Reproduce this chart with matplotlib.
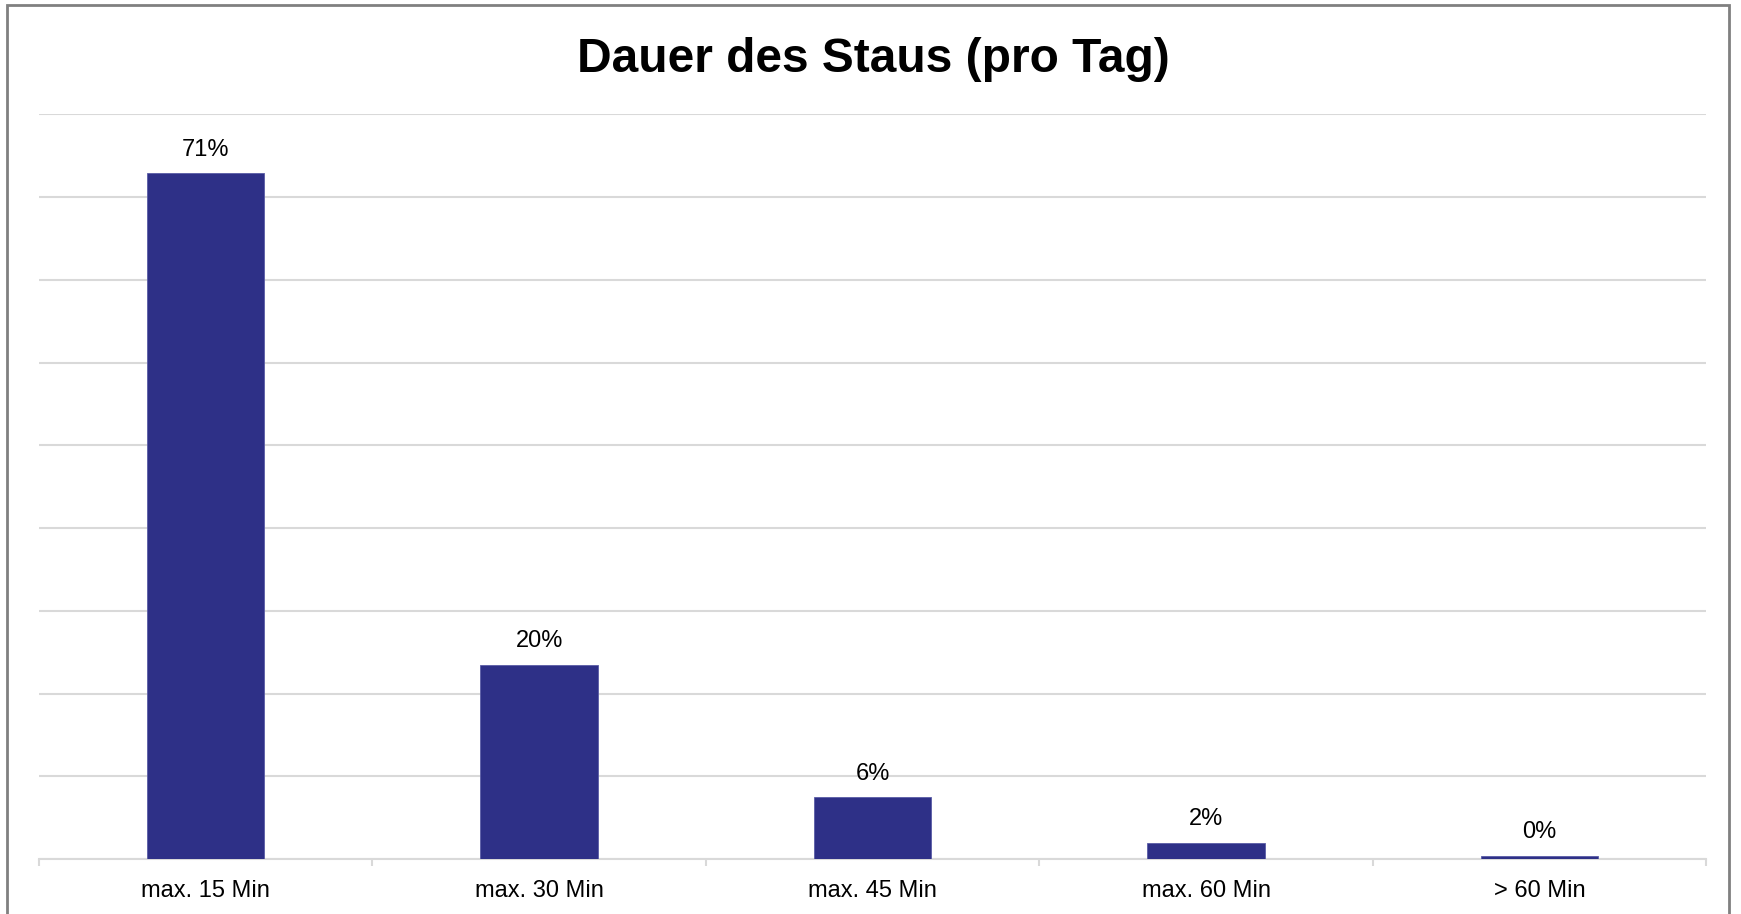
import matplotlib
matplotlib.use("Agg")
import matplotlib.pyplot as plt
from matplotlib.patches import Rectangle
import numpy as np

# data
categories = ["max. 15 Min", "max. 30 Min", "max. 45 Min", "max. 60 Min", "> 60 Min"]
shares = [71.4, 20.2, 6.4, 1.7, 0.35]
share_labels = ["71%", "20%", "6%", "2%", "0%"]
y_max = 77.5

plt.rcParams['font.family'] = ['Liberation Sans', 'DejaVu Sans']

fig = plt.figure(figsize=(17.41, 9.14), dpi=100)
ax = fig.add_axes([0.02234, 0.0602, 0.9578, 0.8146])

x = np.arange(len(categories))
ax.bar(x, shares, width=0.352, color="#2E3087", edgecolor="#5a5ca6", linewidth=0.6, zorder=3)

for xi, v, lab in zip(x, shares, share_labels):
    ax.annotate(lab, (xi, v), xytext=(0, 17.5), textcoords="offset pixels",
                ha="center", va="baseline", fontsize=17, color="#000000")

ax.set_xlim(-0.5, len(categories) - 0.5)
ax.set_ylim(0, y_max)
ax.set_yticks(np.linspace(0, y_max, 10))
ax.yaxis.grid(True, color="#d9d9d9", linewidth=1.5)
ax.set_axisbelow(True)
ax.tick_params(axis="y", left=False, labelleft=False)

ax.set_xticks(x)
ax.set_xticklabels(categories, fontsize=17)
ax.set_xticks(np.arange(-0.5, len(categories)), minor=True)
ax.tick_params(axis="x", which="major", length=0, pad=15)
ax.tick_params(axis="x", which="minor", length=5, width=1.5, color="#d9d9d9")

for s in ["top", "left", "right"]:
    ax.spines[s].set_visible(False)
ax.spines["bottom"].set_color("#d9d9d9")
ax.spines["bottom"].set_linewidth(1.5)

fig.text(0.5017, 1 - 72.5 / 914, "Dauer des Staus (pro Tag)", ha="center", va="baseline",
         fontsize=34.5, fontweight="bold")

# outer chart frame (bottom edge lies outside the picture)
fig.patches.append(Rectangle((7.0 / 1741, -0.05), (1729 - 7.0) / 1741, 1.05 - 5.5 / 914,
                             transform=fig.transFigure, fill=False,
                             edgecolor="#808080", linewidth=2))

fig.savefig("out.png", dpi=100)
